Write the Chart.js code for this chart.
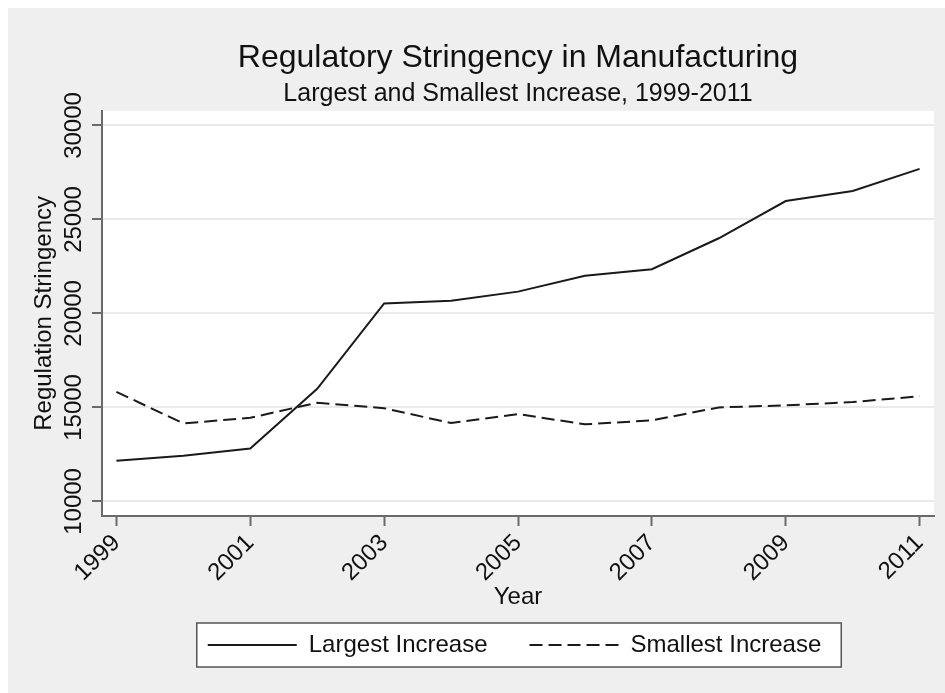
<!DOCTYPE html>
<html>
<head>
<meta charset="utf-8">
<script src="https://cdn.jsdelivr.net/npm/chart.js@4"></script>
<style>
  html, body { margin: 0; padding: 0; background: #fff; }
</style>
</head>
<body>
<canvas id="chart" width="945" height="693"></canvas>
<script>
const years = [1999, 2000, 2001, 2002, 2003, 2004, 2005, 2006, 2007, 2008, 2009, 2010, 2011];
const largestIncrease = [12160, 12430, 12820, 15990, 20530, 20670, 21160, 22010, 22350, 24000, 25980, 26510, 27690];
const smallestIncrease = [15830, 14150, 14450, 15250, 14960, 14170, 14650, 14100, 14310, 15000, 15110, 15290, 15590];
const xTickValues = [1999, 2001, 2003, 2005, 2007, 2009, 2011];
const yTickValues = [10000, 15000, 20000, 25000, 30000];

const FONT = "'Liberation Sans', Arial, sans-serif";
const AXIS = '#6a6a6a';
const TEXT = '#111';

Chart.defaults.font.family = FONT;
Chart.defaults.color = TEXT;

// backgrounds, centred titles and the framed legend
const framePlugin = {
  id: 'frame',
  beforeDraw(chart) {
    const ctx = chart.ctx;
    const a = chart.chartArea;
    ctx.save();
    ctx.fillStyle = '#fff';
    ctx.fillRect(0, 0, chart.width, chart.height);
    ctx.fillStyle = '#efefef';
    ctx.fillRect(8, 8, chart.width - 8, chart.height - 8);
    ctx.fillStyle = '#fff';
    ctx.fillRect(a.left, a.top, a.right - a.left, a.bottom - a.top);

    // titles centred over the plot region
    chart.boxes.filter(b => b.position === 'top').forEach(b => {
      b.left = a.left;
      b.right = a.right;
    });

    const lg = chart.legend;
    const pad = lg.options.labels.padding;
    const lw = lg.lineWidths[0];
    const frameW = lw - pad + 31;
    const frameL = (a.left + a.right) / 2 + 1 - frameW / 2;
    const start = frameL + 11;
    const midY = 645;
    lg.left = start - pad - 0.5;
    lg.right = start + lw + 0.5;
    lg.top = midY - 12 - pad;

    ctx.fillStyle = '#fff';
    ctx.fillRect(frameL, midY - 22, frameW, 44);
    ctx.strokeStyle = '#555';
    ctx.lineWidth = 1.5;
    ctx.strokeRect(frameL, midY - 22, frameW, 44);
    ctx.restore();
  }
};

const chart = new Chart(document.getElementById('chart'), {
  type: 'line',
  data: {
    datasets: [
      {
        label: 'Largest Increase',
        data: years.map((yr, i) => ({ x: yr, y: largestIncrease[i] })),
        borderColor: '#1a1a1a',
        backgroundColor: '#1a1a1a',
        borderWidth: 2,
        pointRadius: 0,
        tension: 0
      },
      {
        label: 'Smallest Increase',
        data: years.map((yr, i) => ({ x: yr, y: smallestIncrease[i] })),
        borderColor: '#1a1a1a',
        backgroundColor: '#1a1a1a',
        borderWidth: 2,
        borderDash: [13, 6],
        pointRadius: 0,
        tension: 0
      }
    ]
  },
  options: {
    responsive: false,
    animation: false,
    devicePixelRatio: 1,
    layout: { padding: { top: 8, left: 8, right: 11, bottom: 0 } },
    plugins: {
      title: {
        display: true,
        text: 'Regulatory Stringency in Manufacturing',
        color: TEXT,
        font: { size: 32, weight: 'normal' },
        padding: { top: 31, bottom: 0 }
      },
      subtitle: {
        display: true,
        text: 'Largest and Smallest Increase, 1999-2011',
        color: TEXT,
        font: { size: 25, weight: 'normal' },
        padding: { top: 1.6, bottom: 1.8 }
      },
      legend: {
        position: 'bottom',
        maxHeight: 60,
        labels: {
          usePointStyle: true,
          pointStyle: 'line',
          pointStyleWidth: 89,
          padding: 42,
          color: TEXT,
          font: { size: 24 },
          // point-style legends take the point's style, so copy the line's dash back in
          generateLabels: c => Chart.defaults.plugins.legend.labels.generateLabels(c).map(item => {
            const ds = c.data.datasets[item.datasetIndex];
            item.lineDash = ds.borderDash || [];
            item.lineWidth = ds.borderWidth;
            item.strokeStyle = ds.borderColor;
            return item;
          })
        }
      },
      tooltip: { enabled: false }
    },
    scales: {
      x: {
        type: 'linear',
        min: 1998.785,
        max: 2011.215,
        afterBuildTicks: s => { s.ticks = xTickValues.map(v => ({ value: v })); },
        afterFit: s => { s.height = 117; },
        border: { color: AXIS, width: 2 },
        grid: { drawOnChartArea: false, tickLength: 10, tickColor: AXIS, tickWidth: 2 },
        ticks: {
          autoSkip: false,
          minRotation: 45,
          maxRotation: 45,
          padding: 3,
          color: TEXT,
          font: { size: 24 },
          callback: v => String(v)
        },
        title: {
          display: true,
          text: 'Year',
          color: TEXT,
          font: { size: 24 },
          padding: { top: 0, bottom: 21.6 }
        }
      },
      y: {
        type: 'linear',
        min: 9225,
        max: 30780,
        afterBuildTicks: s => { s.ticks = yTickValues.map(v => ({ value: v })); },
        afterFit: s => { s.width = 94; },
        border: { color: AXIS, width: 2 },
        grid: { color: '#eaeaea', lineWidth: 2, tickLength: 10, tickColor: AXIS, tickWidth: 2 },
        ticks: {
          minRotation: 90,
          maxRotation: 90,
          crossAlign: 'center',
          padding: -16,
          color: TEXT,
          font: { size: 24 },
          callback: v => String(v)
        },
        title: {
          display: true,
          text: 'Regulation Stringency',
          color: TEXT,
          font: { size: 24 },
          padding: { top: 21.6, bottom: 0 }
        }
      }
    }
  },
  plugins: [framePlugin]
});
</script>
</body>
</html>
